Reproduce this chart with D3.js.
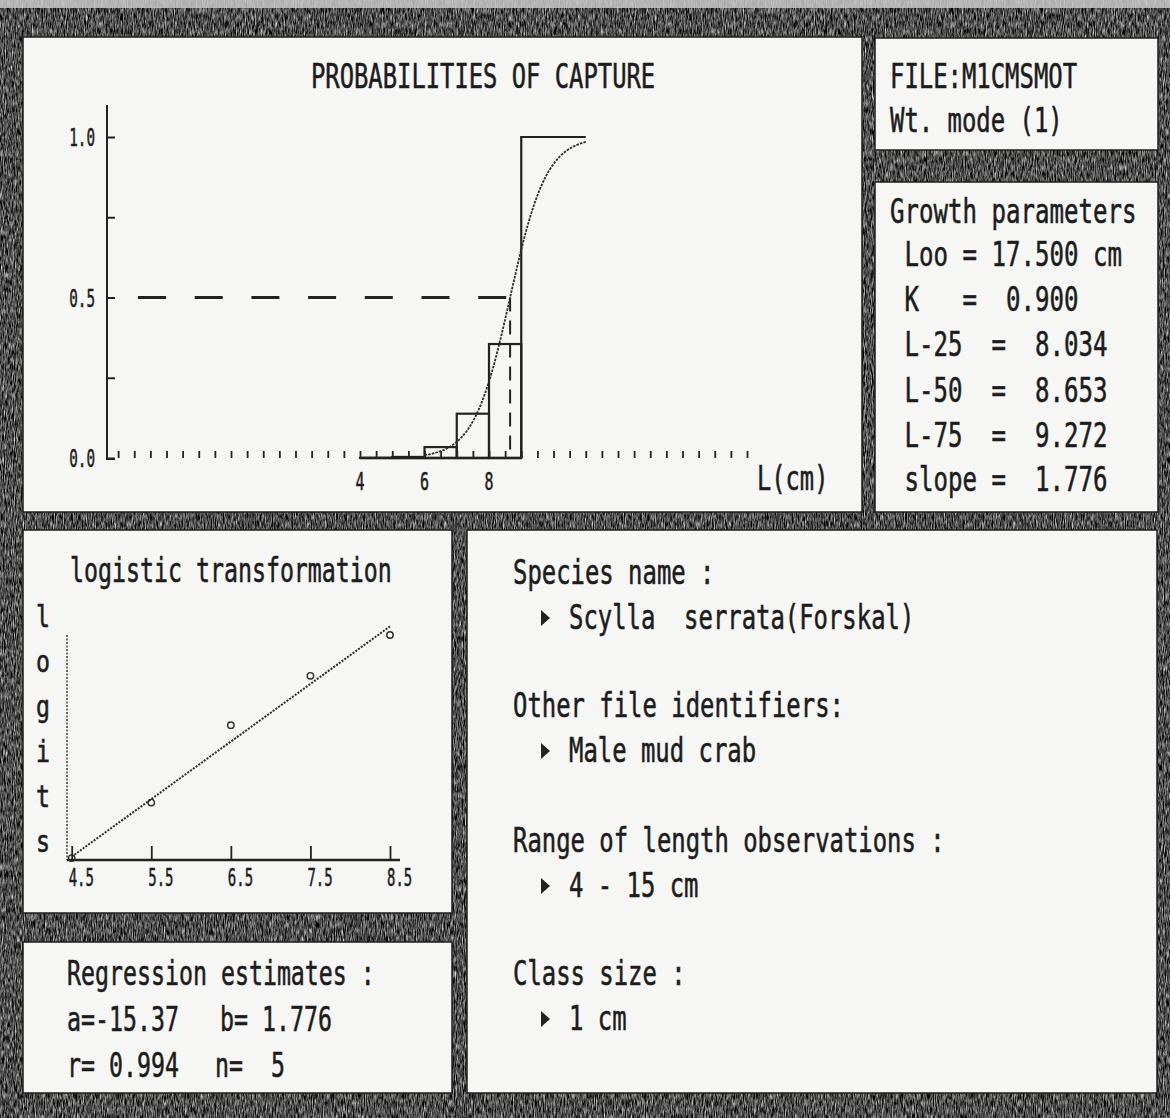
<!DOCTYPE html>
<html>
<head>
<meta charset="utf-8">
<script src="https://cdn.jsdelivr.net/npm/d3@7"></script>
<style>
  html, body { margin: 0; padding: 0; background: #fff; }
  svg { display: block; }
  .t { font-family: "DejaVu Sans Mono", monospace; fill: #1c1c1c; stroke: #1c1c1c; stroke-width: 0.55; white-space: pre; }
</style>
</head>
<body>
<svg id="screen" width="1170" height="1118"></svg>
<script>
// ---------------- data ----------------
const classLower   = [4, 5, 6, 7, 8];                 // 1-cm length classes (lower limits)
const captureProb  = [0.0006, 0.0033, 0.034, 0.138, 0.355];
const fullySelected = [9, 11];                        // classes plotted at P = 1
const probTicks    = [0, 0.25, 0.5, 0.75, 1];
const probLabels   = ["0.0", "0.5", "1.0"];
const lengthLabels = [4, 6, 8];
const curveRange   = [6, 11];

const midLengths   = [4.5, 5.5, 6.5, 7.5, 8.5];
const logitValues  = [-7.42, -5.71, -3.32, -1.80, -0.54];
const midLabels    = ["4.5", "5.5", "6.5", "7.5", "8.5"];

const regA = -15.37, regB = 1.776, regR = 0.994, regN = 5;

const growthNames  = ["Loo", "K", "L-25", "L-50", "L-75", "slope"];
const growthValues = [17.5, 0.9, 8.034, 8.653, 9.272, 1.776];

const fileName   = "M1CMSMOT";
const weightMode = 1;

const infoHeadings = ["Species name :", "Other file identifiers:", "Range of length observations :", "Class size :"];
const infoValues   = ["Scylla  serrata(Forskal)", "Male mud crab", "4 - 15 cm", "1 cm"];

// ---------------- helpers ----------------
const svg = d3.select("#screen");
const INK = "#222";
const EM_ADV = 0.6021;   // DejaVu Sans Mono advance width per em

// fixed-pitch text, squeezed horizontally so that each character takes `adv` pixels
function mono(g, x, y, str, size, adv, anchor) {
  const sx = adv / (EM_ADV * size);
  const t = g.append("text")
    .attr("class", "t")
    .attr("transform", `translate(${x},${y}) scale(${sx},1)`)
    .attr("font-size", size)
    .text(str);
  if (anchor) t.attr("text-anchor", anchor);
  return t;
}

// ---------------- frame ----------------
const defs = svg.append("defs");
const grain = defs.append("filter").attr("id", "grain")
  .attr("x", 0).attr("y", 0).attr("width", "100%").attr("height", "100%")
  .attr("color-interpolation-filters", "sRGB");
grain.append("feTurbulence").attr("type", "fractalNoise")
  .attr("baseFrequency", "0.9 0.14").attr("numOctaves", 3).attr("seed", 7).attr("result", "n");
grain.append("feColorMatrix").attr("type", "matrix")
  .attr("values", "0.33 0.33 0.33 0 0  0.33 0.33 0.33 0 0  0.33 0.33 0.33 0 0  0 0 0 0 1");
const ct = grain.append("feComponentTransfer");
["feFuncR", "feFuncG", "feFuncB"].forEach(f =>
  ct.append(f).attr("type", "linear").attr("slope", 2.3).attr("intercept", -0.83));

svg.append("rect").attr("width", 1170).attr("height", 1118).attr("fill", "#3a3a3a");
svg.append("rect").attr("width", 1170).attr("height", 1118).attr("filter", "url(#grain)");
svg.append("rect").attr("width", 1170).attr("height", 8).attr("fill", "#c8c8c8").attr("opacity", 0.85);

const panels = [
  [23, 37, 862, 512],     // capture probabilities
  [875, 38, 1158, 150],   // file
  [875, 182, 1158, 512],  // growth parameters
  [23, 530, 452, 913],    // logistic transformation
  [23, 942, 452, 1093],   // regression
  [467, 530, 1157, 1093]  // file description
];
svg.append("g").selectAll("rect").data(panels).join("rect")
  .attr("x", d => d[0]).attr("y", d => d[1])
  .attr("width", d => d[2] - d[0]).attr("height", d => d[3] - d[1])
  .attr("fill", "#f6f6f4").attr("stroke", "#1e1e1e").attr("stroke-width", 1.5);

// ---------------- capture probability plot ----------------
const capG = svg.append("g");
const xLen = d3.scaleLinear().domain([4, 8]).range([360, 489]);
const yP = d3.scaleLinear().domain([0, 1]).range([458, 137]);
const axisX = 107;

mono(capG, 311, 88, "PROBABILITIES OF CAPTURE", 33, 14.35);

// vertical axis
capG.append("line").attr("x1", axisX).attr("x2", axisX)
  .attr("y1", yP(1.1)).attr("y2", yP(0) + 2)
  .attr("stroke", INK).attr("stroke-width", 2);
const yAx = capG.append("g").attr("transform", `translate(${axisX},0)`)
  .call(d3.axisRight(yP).tickValues(probTicks).tickSize(8).tickFormat(""));
yAx.select(".domain").remove();
yAx.selectAll("line").attr("stroke", INK).attr("stroke-width", 2);
probLabels.forEach(d => mono(capG, 95, yP(+d) + 9, d, 25, 8.6, "end"));

// horizontal axis: half-cm ticks, solid over the observed classes
const halfCm = d3.range(-3.5, 16.01, 0.5);
const xAx = capG.append("g").attr("transform", `translate(0,${yP(0)})`)
  .call(d3.axisTop(xLen).tickValues(halfCm).tickSize(7).tickFormat(""));
xAx.select(".domain").remove();
xAx.selectAll("line").attr("stroke", INK).attr("stroke-width", 1.8);
capG.append("line").attr("x1", axisX).attr("x2", axisX + 8)
  .attr("y1", yP(0) + 1).attr("y2", yP(0) + 1).attr("stroke", INK).attr("stroke-width", 2);
capG.append("line").attr("x1", xLen(classLower[0])).attr("x2", xLen(fullySelected[0]))
  .attr("y1", yP(0)).attr("y2", yP(0)).attr("stroke", INK).attr("stroke-width", 2.5);
lengthLabels.forEach(v => mono(capG, xLen(v), 490, String(v), 25, 9, "middle"));
mono(capG, 757, 490, "L(cm)", 33, 14.3);

// observed proportions per class
capG.append("g").selectAll("rect").data(classLower).join("rect")
  .attr("x", d => xLen(d)).attr("width", d => xLen(d + 1) - xLen(d))
  .attr("y", (d, i) => yP(captureProb[i]))
  .attr("height", (d, i) => yP(0) - yP(captureProb[i]))
  .attr("fill", "none").attr("stroke", INK).attr("stroke-width", 2.2);
capG.append("path")
  .attr("d", `M${xLen(fullySelected[0])},${yP(0)}V${yP(1)}H${xLen(fullySelected[1])}`)
  .attr("fill", "none").attr("stroke", INK).attr("stroke-width", 2.2);

// L50 reference lines
const L50 = -regA / regB;
capG.append("line").attr("x1", axisX + 31).attr("x2", xLen(L50))
  .attr("y1", yP(0.5)).attr("y2", yP(0.5))
  .attr("stroke", INK).attr("stroke-width", 2.8).attr("stroke-dasharray", "28,28.7");
capG.append("line").attr("x1", xLen(L50)).attr("x2", xLen(L50))
  .attr("y1", yP(0.5)).attr("y2", yP(0))
  .attr("stroke", INK).attr("stroke-width", 2).attr("stroke-dasharray", "14,9");

// fitted logistic selection curve
const curveL = d3.range(curveRange[0], curveRange[1] + 1e-9, 0.05);
capG.append("path").datum(curveL)
  .attr("d", d3.line().x(L => xLen(L)).y(L => yP(1 / (1 + Math.exp(-(regA + regB * L))))))
  .attr("fill", "none").attr("stroke", "#2a2a2a").attr("stroke-width", 1.8)
  .attr("stroke-dasharray", "2.5,1.2");

// ---------------- file panel ----------------
const fp = svg.append("g");
mono(fp, 890, 88, "FILE:" + fileName, 33, 14.4);
mono(fp, 890, 132, `Wt. mode (${weightMode})`, 33, 14.4);

// ---------------- growth parameters ----------------
const gp = svg.append("g");
const f3 = d3.format(".3f");
const growthLines = [
  "Growth parameters",
  ` ${growthNames[0]} = ${f3(growthValues[0])} cm`,
  ` ${growthNames[1]}   =  ${f3(growthValues[1])}`,
  ` ${growthNames[2]}  =  ${f3(growthValues[2])}`,
  ` ${growthNames[3]}  =  ${f3(growthValues[3])}`,
  ` ${growthNames[4]}  =  ${f3(growthValues[4])}`,
  ` ${growthNames[5]} =  ${f3(growthValues[5])}`
];
const growthBase = [223, 266, 311, 356, 402, 447, 491];
growthLines.forEach((s, i) => mono(gp, 890, growthBase[i], s, 33, 14.5));

// ---------------- logistic transformation ----------------
const lg = svg.append("g");
const xL = d3.scaleLinear().domain([4.5, 8.5]).range([71.7, 390]);
const yL = d3.scaleLinear().domain([-7.48, -0.54]).range([860, 635]);

mono(lg, 70, 582, "logistic transformation", 33, 14.0);
"logits".split("").forEach((c, i) => mono(lg, 43, 627 + 45 * i, c, 30, 14, "middle"));

lg.append("line").attr("x1", 67).attr("x2", 67).attr("y1", yL.range()[1]).attr("y2", yL.range()[0])
  .attr("stroke", INK).attr("stroke-width", 1.3).attr("stroke-dasharray", "2,1.5");
lg.append("line").attr("x1", 67).attr("x2", 400).attr("y1", 860).attr("y2", 860)
  .attr("stroke", INK).attr("stroke-width", 2.5);
const lx = lg.append("g").attr("transform", "translate(0,860)")
  .call(d3.axisTop(xL).tickValues(midLengths).tickSize(14).tickFormat(""));
lx.select(".domain").remove();
lx.selectAll("line").attr("stroke", INK).attr("stroke-width", 1.8);
midLabels.forEach((s, i) => mono(lg, xL(midLengths[i]) - 3, 886, s, 24, 8.4));

lg.append("line")
  .attr("x1", xL(midLengths[0])).attr("y1", yL(regA + regB * midLengths[0]))
  .attr("x2", xL(midLengths[4])).attr("y2", yL(regA + regB * midLengths[4]))
  .attr("stroke", "#2a2a2a").attr("stroke-width", 2).attr("stroke-dasharray", "2,1.4");
lg.append("g").selectAll("circle").data(midLengths).join("circle")
  .attr("cx", d => xL(d)).attr("cy", (d, i) => yL(logitValues[i])).attr("r", 3.2)
  .attr("fill", "none").attr("stroke", "#2a2a2a").attr("stroke-width", 1.4);

// ---------------- regression estimates ----------------
const rg = svg.append("g");
mono(rg, 67, 985, "Regression estimates :", 33, 14.0);
mono(rg, 67, 1031, `a=${regA.toFixed(2)}`, 33, 14.0);
mono(rg, 220, 1031, `b= ${regB.toFixed(3)}`, 33, 14.0);
mono(rg, 67, 1077, `r= ${regR.toFixed(3)}`, 33, 14.0);
mono(rg, 215, 1077, `n=  ${regN}`, 33, 14.0);

// ---------------- file description ----------------
const ds = svg.append("g");
const headBase = [584, 717, 852, 985];
infoHeadings.forEach((h, i) => {
  mono(ds, 513, headBase[i], h, 33, 14.4);
  const yb = headBase[i] + 45;
  ds.append("path")
    .attr("d", `M541,${yb - 19}L550,${yb - 11}L541,${yb - 3}Z`)
    .attr("fill", INK);
  mono(ds, 569, yb, infoValues[i], 33, 14.4);
});
</script>
</body>
</html>
